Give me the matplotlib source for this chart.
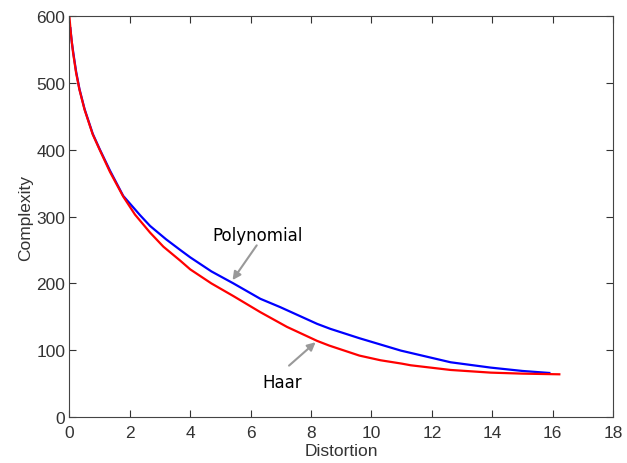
import matplotlib.pyplot as plt

# curves
x_poly = [0.03, 0.08, 0.15, 0.22, 0.33, 0.5, 0.77, 1.0, 1.34, 1.78, 2.34, 2.67, 3.2, 3.67, 4.0,
          4.7, 5.43, 6.32, 6.98, 8.2, 8.64, 9.6, 10.97, 11.3, 12.62, 13.95, 15.0, 15.89]
y_poly = [582, 560, 538, 517, 491, 461, 424, 401, 369, 331, 302, 286, 266, 250, 239,
          218, 200, 177, 164.5, 139.5, 132, 118, 99.5, 96, 82, 74, 69, 66]

x_haar = [0, 0.05, 0.12, 0.22, 0.33, 0.5, 0.77, 1.0, 1.34, 1.78, 2.17, 2.67, 3.11, 3.67, 4.0,
          4.7, 5.43, 6.32, 7.2, 8.2, 8.6, 9.6, 10.3, 11.0, 11.3, 12.62, 13.95, 15.0, 16.22]
y_haar = [598, 572, 545, 515, 490, 460, 423, 400, 367, 330, 303, 276, 255, 234, 221,
          200, 181, 157, 135, 114, 107, 92, 85, 80, 77.5, 70.5, 66.5, 65, 64]

xticks = [0, 2, 4, 6, 8, 10, 12, 14, 16, 18]
yticks = [0, 100, 200, 300, 400, 500, 600]

plt.rcParams['font.family'] = ['Liberation Sans', 'DejaVu Sans']

fig = plt.figure(figsize=(6.27, 4.64), dpi=100)
ax = fig.add_axes([0.1108, 0.099, 0.867, 0.864])

ax.plot(x_poly, y_poly, color='#0000ff', linewidth=1.6)
ax.plot(x_haar, y_haar, color='#ff0000', linewidth=1.6)

ax.set_xlim(0, 18)
ax.set_ylim(0, 600)
ax.set_xticks(xticks)
ax.set_yticks(yticks)
ax.tick_params(direction='in', length=5, top=True, right=True, labelsize=12.5,
               colors='#333333', pad=3)
ax.tick_params(axis='x', pad=6)
for s in ax.spines.values():
    s.set_color('#444444')

ax.set_xlabel('Distortion', fontsize=12.5, color='#333333', labelpad=2)
ax.set_ylabel('Complexity', fontsize=12.5, color='#333333', labelpad=2)

arrow = dict(arrowstyle='-|>', color='#999999', lw=1.5, mutation_scale=12, shrinkA=0, shrinkB=0)
ax.annotate('', xy=(5.4, 205), xytext=(6.2, 257), arrowprops=arrow)
ax.text(6.22, 273, 'Polynomial', fontsize=12, family='DejaVu Sans', ha='center', va='center')
ax.annotate('', xy=(8.15, 112), xytext=(7.27, 77), arrowprops=arrow)
ax.text(7.03, 53, 'Haar', fontsize=12, family='DejaVu Sans', ha='center', va='center')

fig.savefig('out.png', dpi=100)
